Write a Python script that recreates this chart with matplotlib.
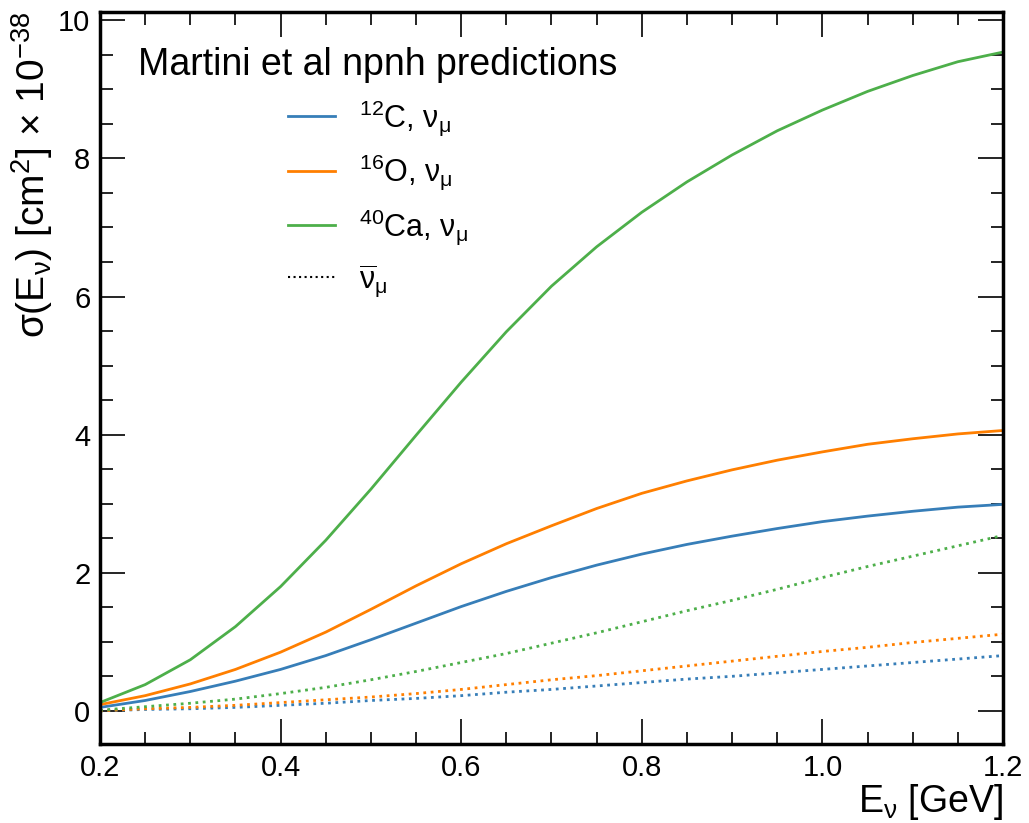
import matplotlib.pyplot as plt
from matplotlib.ticker import MultipleLocator

plt.rcParams['font.family'] = ['Liberation Sans', 'DejaVu Sans']
plt.rcParams['mathtext.fontset'] = 'custom'
plt.rcParams['mathtext.rm'] = 'Liberation Sans'
plt.rcParams['mathtext.it'] = 'Liberation Sans'
plt.rcParams['mathtext.bf'] = 'Liberation Sans:bold'

# neutrino energy grid [GeV]
energy = [0.20, 0.25, 0.30, 0.35, 0.40, 0.45, 0.50, 0.55, 0.60, 0.65, 0.70,
          0.75, 0.80, 0.85, 0.90, 0.95, 1.00, 1.05, 1.10, 1.15, 1.20]

# npnh cross sections, units of 1e-38 cm^2
c12_nu = [0.05, 0.15, 0.28, 0.43, 0.60, 0.80, 1.03, 1.27, 1.51, 1.73, 1.93,
          2.11, 2.27, 2.41, 2.53, 2.64, 2.74, 2.82, 2.89, 2.95, 2.99]
o16_nu = [0.09, 0.22, 0.39, 0.60, 0.85, 1.14, 1.47, 1.81, 2.13, 2.42, 2.68,
          2.93, 3.15, 3.33, 3.49, 3.63, 3.75, 3.86, 3.94, 4.01, 4.06]
ca40_nu = [0.12, 0.38, 0.74, 1.22, 1.80, 2.47, 3.21, 3.99, 4.76, 5.49, 6.15,
           6.72, 7.22, 7.66, 8.05, 8.40, 8.70, 8.97, 9.20, 9.40, 9.54]

c12_nubar = [0.00, 0.02, 0.03, 0.05, 0.08, 0.11, 0.15, 0.18, 0.22, 0.27, 0.31,
             0.36, 0.41, 0.46, 0.50, 0.55, 0.60, 0.65, 0.70, 0.75, 0.80]
o16_nubar = [0.00, 0.03, 0.05, 0.08, 0.12, 0.16, 0.20, 0.25, 0.31, 0.38, 0.45,
             0.51, 0.58, 0.65, 0.72, 0.79, 0.86, 0.92, 0.99, 1.05, 1.11]
ca40_nubar = [0.01, 0.06, 0.11, 0.17, 0.25, 0.34, 0.45, 0.57, 0.70, 0.83, 0.98,
              1.13, 1.29, 1.45, 1.60, 1.76, 1.93, 2.09, 2.24, 2.39, 2.54]

targets = [r'$^{12}$C', r'$^{16}$O', r'$^{40}$Ca']
colors = ['#377eb8', '#ff7f00', '#4daf4a']

fig = plt.figure(figsize=(10.29, 8.23), dpi=100)
ax = fig.add_axes([0.0972, 0.096, 0.8775, 0.8894])

for name, col, nu, nubar in zip(targets, colors,
                                [c12_nu, o16_nu, ca40_nu],
                                [c12_nubar, o16_nubar, ca40_nubar]):
    ax.plot(energy, nu, color=col, lw=2, label=name + r', $\nu_{\mu}$')
    ax.plot(energy, nubar, color=col, lw=2, ls=':')

# dummy entry for the antineutrino line style
ax.plot([], [], color='black', lw=1.5, ls=':', label=r'$\overline{\nu}_{\mu}$')

ax.set_xlim(0.2, 1.2)
ax.set_ylim(-0.48, 10.12)
ax.xaxis.set_major_locator(MultipleLocator(0.2))
ax.xaxis.set_minor_locator(MultipleLocator(0.05))
ax.yaxis.set_major_locator(MultipleLocator(2))
ax.yaxis.set_minor_locator(MultipleLocator(0.5))
ax.xaxis.set_major_formatter(plt.FuncFormatter(lambda v, p: f'{v:.1f}'))

ax.tick_params(which='both', direction='in', top=True, right=True,
               labelsize=21, width=1.2)
ax.tick_params(which='major', length=18, pad=7)
ax.tick_params(which='minor', length=9)
for sp in ax.spines.values():
    sp.set_linewidth(2.5)

ax.set_xlabel(r'E$_{\nu}$ [GeV]', fontsize=27, loc='right', labelpad=0)
ax.set_ylabel(r'$\sigma$(E$_{\nu}$) [cm$^{2}$] $\times$ 10$^{-38}$',
              fontsize=28, loc='top', labelpad=2)

leg = ax.legend(loc='upper left', bbox_to_anchor=(0.012, 0.99), frameon=False,
                fontsize=22, title='Martini et al npnh predictions',
                title_fontsize=27, handlelength=1.55, labelspacing=0.5,
                handletextpad=0.8)

fig.savefig('out.png', dpi=100)
